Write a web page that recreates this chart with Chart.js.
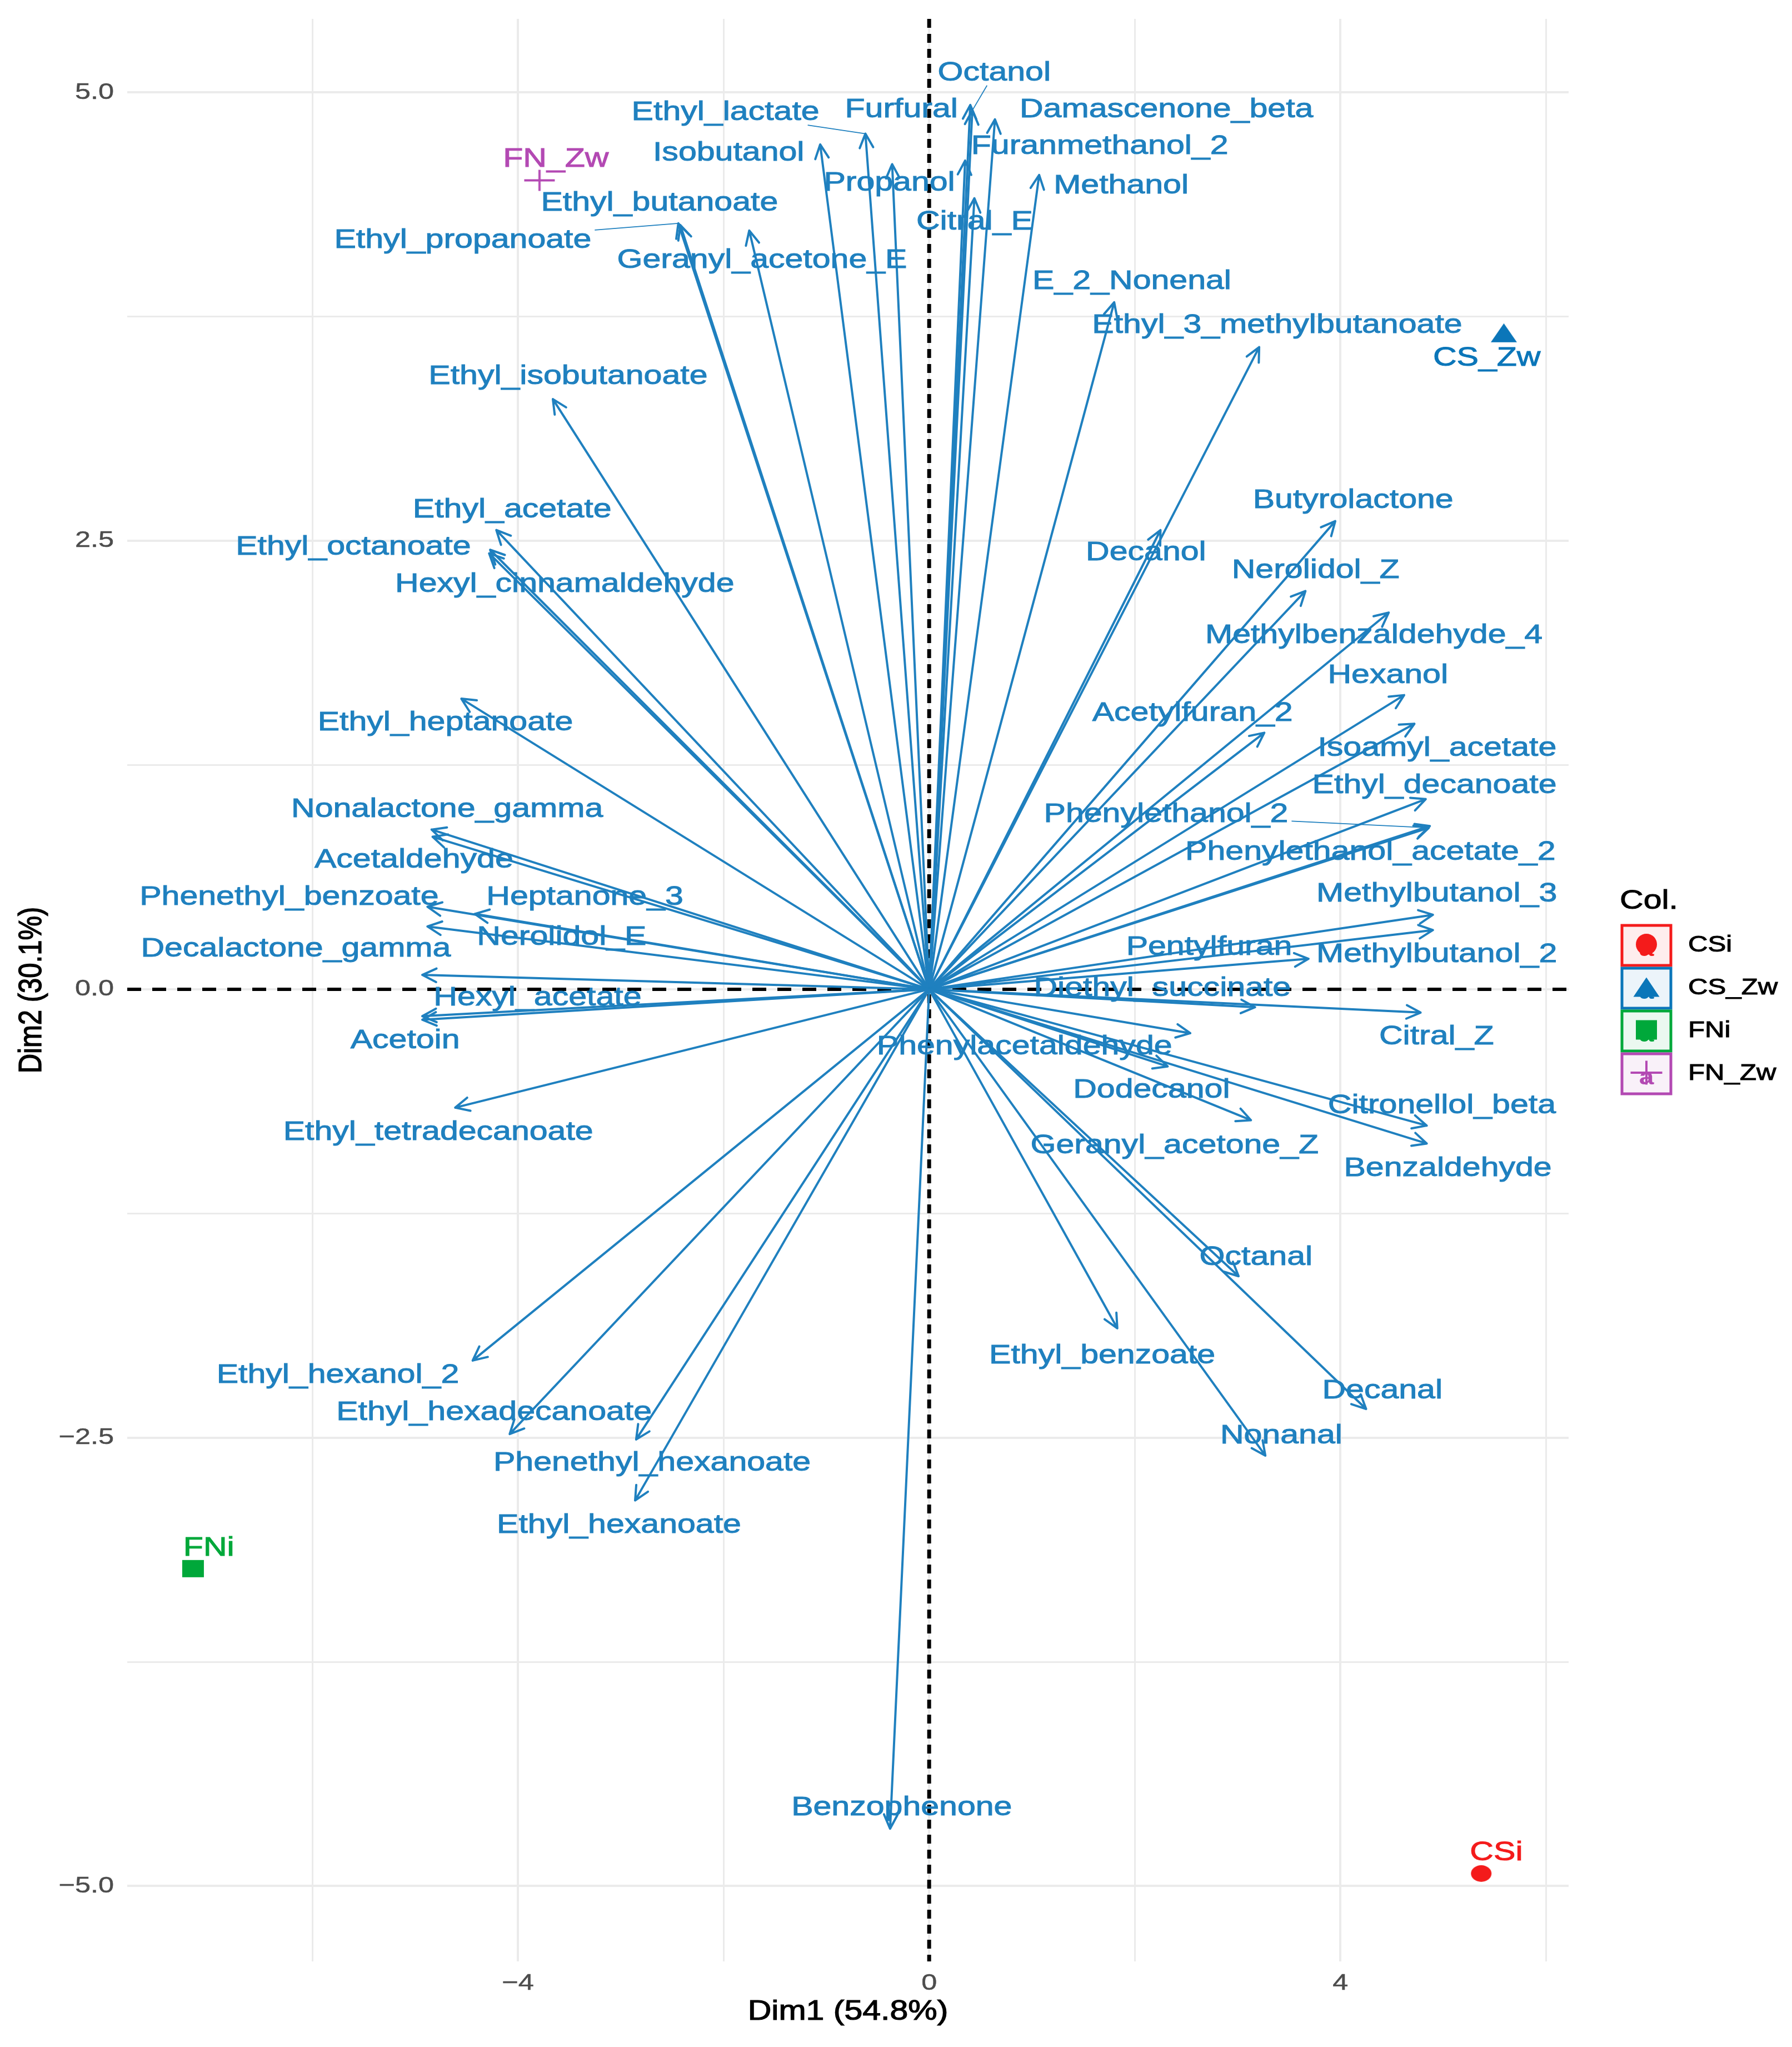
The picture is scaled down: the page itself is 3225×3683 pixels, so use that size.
<!DOCTYPE html>
<html>
<head>
<meta charset="utf-8">
<title>PCA biplot</title>
<script src="https://cdn.jsdelivr.net/npm/chart.js@4.4.1/dist/chart.umd.min.js"></script>
<style>
  html, body { margin: 0; padding: 0; background: #fff; }
  canvas { display: block; }
</style>
</head>
<body>
<canvas id="biplot" width="3225" height="3683"></canvas>
<script>
// =================== DATA ===================
// variable arrows (tip coordinates, Dim1 / Dim2)
const varNames = [
  "Ethyl_lactate", "Furfural", "Octanol", "Isobutanol", "Propanol",
  "Ethyl_butanoate", "Ethyl_propanoate", "Geranyl_acetone_E", "Ethyl_isobutanoate", "Ethyl_acetate",
  "Ethyl_octanoate", "Hexyl_cinnamaldehyde", "Damascenone_beta", "Furanmethanol_2", "Methanol",
  "Citral_E", "E_2_Nonenal", "Ethyl_3_methylbutanoate", "Decanol", "Butyrolactone",
  "Nerolidol_Z", "Methylbenzaldehyde_4", "Ethyl_heptanoate", "Nonalactone_gamma", "Acetaldehyde",
  "Heptanone_3", "Phenethyl_benzoate", "Nerolidol_E", "Decalactone_gamma", "Hexyl_acetate",
  "Acetoin", "Ethyl_tetradecanoate", "Hexanol", "Acetylfuran_2", "Isoamyl_acetate",
  "Ethyl_decanoate", "Phenylethanol_2", "Phenylethanol_acetate_2", "Methylbutanol_3", "Methylbutanol_2",
  "Pentylfuran", "Diethyl_succinate", "Citral_Z", "Phenylacetaldehyde", "Dodecanol",
  "Geranyl_acetone_Z", "Citronellol_beta", "Benzaldehyde", "Octanal", "Ethyl_benzoate",
  "Decanal", "Nonanal", "Ethyl_hexanol_2", "Ethyl_hexadecanoate", "Phenethyl_hexanoate",
  "Ethyl_hexanoate", "Benzophenone"
];
const varX = [
  -0.62, 0.40, 0.42, -1.06, -0.36,
  -2.42, -2.44, -1.75, -3.66, -4.21,
  -4.28, -4.27, 0.64, 0.35, 1.07,
  0.44, 1.80, 3.21, 2.25, 3.95,
  3.66, 4.47, -4.55, -4.84, -4.83,
  -4.42, -4.88, -4.88, -4.93, -4.93,
  -4.93, -4.61, 4.62, 3.26, 4.72,
  4.83, 4.86, 4.87, 4.90, 4.90,
  3.69, 3.17, 4.78, 2.54, 2.32,
  3.13, 4.84, 4.84, 3.01, 1.83,
  4.25, 3.27, -4.44, -4.08, -2.85,
  -2.86, -0.38
];
const varY = [
  4.77, 4.93, 4.90, 4.71, 4.60,
  4.26, 4.27, 4.23, 3.29, 2.56,
  2.43, 2.45, 4.85, 4.62, 4.54,
  4.41, 3.83, 3.58, 2.56, 2.61,
  2.22, 2.10, 1.62, 0.89, 0.85,
  0.42, 0.46, 0.35, 0.08, -0.15,
  -0.17, -0.66, 1.64, 1.43, 1.48,
  1.06, 0.90, 0.91, 0.415, 0.33,
  0.17, -0.10, -0.13, -0.245, -0.43,
  -0.73, -0.76, -0.86, -1.60, -1.89,
  -2.34, -2.60, -2.07, -2.48, -2.51,
  -2.85, -4.68
];
// repelled label centres, same order as varNames
const labelX = [
  -1.981, -0.270, 0.633, -1.951, -0.387,
  -2.623, -4.536, -1.625, -3.512, -4.056,
  -5.601, -3.545, 2.308, 1.659, 1.867,
  0.442, 1.972, 3.385, 2.109, 4.124,
  3.759, 4.326, -4.706, -4.689, -5.012,
  -3.349, -6.225, -3.574, -6.160, -3.809,
  -5.097, -4.775, 4.462, 2.562, 4.941,
  4.915, 2.304, 4.292, 4.937, 4.937,
  2.723, 2.268, 4.935, 0.927, 2.163,
  2.387, 4.987, 5.045, 3.179, 1.683,
  4.408, 3.425, -5.752, -4.232, -2.695,
  -3.017, -0.267
];
const labelY = [
  4.886, 4.903, 5.107, 4.661, 4.494,
  4.382, 4.175, 4.064, 3.416, 2.670,
  2.463, 2.255, 4.903, 4.697, 4.479,
  4.277, 3.945, 3.699, 2.432, 2.724,
  2.333, 1.970, 1.484, 1.001, 0.719,
  0.513, 0.513, 0.288, 0.223, -0.049,
  -0.287, -0.799, 1.748, 1.537, 1.341,
  1.135, 0.972, 0.763, 0.530, 0.193,
  0.232, 0.002, -0.267, -0.322, -0.563,
  -0.872, -0.650, -1.002, -1.495, -2.045,
  -2.241, -2.492, -2.152, -2.362, -2.643,
  -2.989, -4.565
];
// labels that ggrepel joined to their arrow with a segment
const leaderNames = ["Ethyl_lactate", "Ethyl_propanoate", "Octanol", "Phenylethanol_2"];

// individuals
const groupNames = ["CSi", "CS_Zw", "FNi", "FN_Zw"];
const indX = [5.37, 5.59, -7.16, -3.79];
const indY = [-4.93, 3.66, -3.23, 4.51];
const indLabelX = [5.517, 5.424, -7.007, -3.631];
const indLabelY = [-4.815, 3.518, -3.117, 4.626];

// axes
const xGrid = [-6, -4, -2, 0, 2, 4, 6];
const yGrid = [-5, -3.75, -2.5, -1.25, 0, 1.25, 2.5, 3.75, 5];
const xTicks = [-4, 0, 4];
const xTickLabels = ["\u22124", "0", "4"];
const yTicks = [-5, -2.5, 0, 2.5, 5];
const yTickLabels = ["\u22125.0", "\u22122.5", "0.0", "2.5", "5.0"];
const xTitle = "Dim1 (54.8%)";
const yTitle = "Dim2 (30.1%)";
const legendTitle = "Col.";

// =================== STYLE ===================
const FONT = "'Liberation Sans', Arial, Helvetica, sans-serif";
const STRETCH = 1.23;            // the source picture is widened horizontally
const VAR_COLOR = "#1f80bf";
const GROUP_COLORS = ["#f41b1b", "#0b76b9", "#00a83a", "#b349b3"];
const GROUP_SHAPES = ["circle", "triangle", "rect", "cross"];
const MAJOR_X = [-4, 0, 4];
const MAJOR_Y = [-5, -2.5, 0, 2.5, 5];

function hexToRgba(hex, a) {
  const n = parseInt(hex.slice(1), 16);
  return `rgba(${(n >> 16) & 255},${(n >> 8) & 255},${n & 255},${a})`;
}

// text widened like the source; a faint outline gives the slightly heavier look
function drawText(ctx, text, x, y, font, color, align = "center", baseline = "middle", sx = STRETCH, weight = 1) {
  ctx.save();
  ctx.font = font;
  ctx.fillStyle = color;
  ctx.strokeStyle = color;
  ctx.lineWidth = weight;
  ctx.textAlign = align;
  ctx.textBaseline = baseline;
  ctx.translate(x, y);
  ctx.scale(sx, 1);
  ctx.fillText(text, 0, 0);
  if (weight > 0) ctx.strokeText(text, 0, 0);
  ctx.restore();
}

function drawShape(g, shape, cx, cy, w, h, color) {
  g.save();
  g.fillStyle = color;
  g.strokeStyle = color;
  g.beginPath();
  if (shape === "circle") {
    g.ellipse(cx, cy, w / 2, h / 2, 0, 0, Math.PI * 2);
    g.fill();
  } else if (shape === "triangle") {
    g.moveTo(cx, cy - h / 2);
    g.lineTo(cx + w / 2, cy + h / 2);
    g.lineTo(cx - w / 2, cy + h / 2);
    g.closePath();
    g.fill();
  } else if (shape === "rect") {
    g.rect(cx - w / 2, cy - h / 2, w, h);
    g.fill();
  } else {
    g.lineWidth = 4;
    g.moveTo(cx - w / 2, cy);
    g.lineTo(cx + w / 2, cy);
    g.moveTo(cx, cy - h / 2);
    g.lineTo(cx, cy + h / 2);
    g.stroke();
  }
  g.restore();
}

const MARKER_SIZE = { circle: [37, 30], triangle: [47, 34], rect: [39, 31], cross: [55, 38] };

function makeMarker(shape, color) {
  const [w, h] = MARKER_SIZE[shape];
  const c = document.createElement("canvas");
  c.width = w + 4;
  c.height = h + 4;
  drawShape(c.getContext("2d"), shape, c.width / 2, c.height / 2, w, h, color);
  return c;
}

// =================== ARROWS, LABELS, LEGEND ===================
function drawArrow(ctx, x0, y0, x1, y1) {
  const ang = Math.atan2(y1 - y0, x1 - x0);
  const len = 28, spread = Math.PI / 7;
  ctx.beginPath();
  ctx.moveTo(x0, y0);
  ctx.lineTo(x1, y1);
  ctx.moveTo(x1 - len * Math.cos(ang - spread), y1 - len * Math.sin(ang - spread));
  ctx.lineTo(x1, y1);
  ctx.lineTo(x1 - len * Math.cos(ang + spread), y1 - len * Math.sin(ang + spread));
  ctx.stroke();
}

const biplotDecor = {
  id: "biplotDecor",
  beforeDatasetsDraw(chart) {
    const { ctx, chartArea: a, scales: { x, y } } = chart;
    const ox = x.getPixelForValue(0), oy = y.getPixelForValue(0);

    // dashed zero lines
    ctx.save();
    ctx.strokeStyle = "#000";
    ctx.lineWidth = 6;
    ctx.setLineDash([25, 20]);
    ctx.beginPath();
    ctx.moveTo(a.left, oy);
    ctx.lineTo(a.right, oy);
    ctx.stroke();
    ctx.lineWidth = 7;
    ctx.setLineDash([16, 11]);
    ctx.beginPath();
    ctx.moveTo(ox, a.top);
    ctx.lineTo(ox, a.bottom);
    ctx.stroke();
    ctx.restore();

    // variable arrows
    ctx.save();
    ctx.strokeStyle = VAR_COLOR;
    ctx.lineWidth = 4;
    ctx.lineCap = "round";
    ctx.lineJoin = "round";
    varNames.forEach((name, i) => {
      drawArrow(ctx, ox, oy, x.getPixelForValue(varX[i]), y.getPixelForValue(varY[i]));
    });
    ctx.restore();

    // leader segments from label box edge to arrow tip
    const labelFont = `48px ${FONT}`;
    ctx.save();
    ctx.font = labelFont;
    ctx.strokeStyle = VAR_COLOR;
    ctx.lineWidth = 1.8;
    leaderNames.forEach(name => {
      const i = varNames.indexOf(name);
      const lx = x.getPixelForValue(labelX[i]), ly = y.getPixelForValue(labelY[i]);
      const tx = x.getPixelForValue(varX[i]), ty = y.getPixelForValue(varY[i]);
      const hw = ctx.measureText(name).width * STRETCH / 2 + 6, hh = 22;
      const dx = tx - lx, dy = ty - ly;
      const t = Math.min(hw / Math.abs(dx || 1e-6), hh / Math.abs(dy || 1e-6));
      ctx.beginPath();
      ctx.moveTo(lx + dx * t, ly + dy * t);
      ctx.lineTo(tx, ty);
      ctx.stroke();
    });
    ctx.restore();

    // variable labels
    varNames.forEach((name, i) => {
      drawText(ctx, name, x.getPixelForValue(labelX[i]), y.getPixelForValue(labelY[i]), labelFont, VAR_COLOR);
    });
  },

  afterDraw(chart) {
    const { ctx, chartArea: a, scales: { x, y } } = chart;

    // individual labels
    groupNames.forEach((name, i) => {
      drawText(ctx, name, x.getPixelForValue(indLabelX[i]), y.getPixelForValue(indLabelY[i]),
        `48px ${FONT}`, GROUP_COLORS[i]);
    });

    // tick labels
    const tickFont = `41px ${FONT}`;
    xTicks.forEach((v, i) => {
      drawText(ctx, xTickLabels[i], x.getPixelForValue(v), a.bottom + 40, tickFont, "#4d4d4d", "center", "middle", STRETCH, 0.5);
    });
    yTicks.forEach((v, i) => {
      drawText(ctx, yTickLabels[i], a.left - 24, y.getPixelForValue(v), tickFont, "#4d4d4d", "right", "middle", STRETCH, 0.5);
    });

    // axis titles
    drawText(ctx, xTitle, (a.left + a.right) / 2, a.bottom + 91, `50px ${FONT}`, "#000", "center", "middle", 1.18, 1.2);
    ctx.save();
    ctx.translate(58, (a.top + a.bottom) / 2);
    ctx.scale(1.18, 1);
    ctx.rotate(-Math.PI / 2);
    ctx.font = `49px ${FONT}`;
    ctx.fillStyle = "#000";
    ctx.strokeStyle = "#000";
    ctx.lineWidth = 1.2;
    ctx.textAlign = "center";
    ctx.textBaseline = "middle";
    ctx.fillText(yTitle, 0, 0);
    ctx.strokeText(yTitle, 0, 0);
    ctx.restore();

    // legend
    const boxX = 2919, boxW = 88, boxH = 72, rowTop = 1665, rowStep = 77;
    drawText(ctx, legendTitle, 2915, 1635, `48px ${FONT}`, "#000", "left", "alphabetic");
    groupNames.forEach((name, i) => {
      const top = rowTop + i * rowStep, cy = top + boxH / 2, cx = boxX + boxW / 2;
      const col = GROUP_COLORS[i];
      ctx.save();
      ctx.fillStyle = hexToRgba(col, 0.08);
      ctx.fillRect(boxX, top, boxW, boxH);
      ctx.strokeStyle = col;
      ctx.lineWidth = 5;
      ctx.strokeRect(boxX, top, boxW, boxH);
      ctx.restore();
      drawText(ctx, "a", cx, cy + 8, `bold 40px ${FONT}`, col, "center", "middle", 1.2, 0);
      const sz = { circle: [38, 38], triangle: [47, 35], rect: [38, 35], cross: [57, 43] }[GROUP_SHAPES[i]];
      drawShape(ctx, GROUP_SHAPES[i], cx, cy - 2, sz[0], sz[1], col);
      drawText(ctx, name, 3038, cy, `40px ${FONT}`, "#000", "left");
    });
  }
};

// =================== CHART ===================
const datasets = groupNames.map((name, i) => ({
  label: name,
  data: [{ x: indX[i], y: indY[i] }],
  pointStyle: makeMarker(GROUP_SHAPES[i], GROUP_COLORS[i]),
  pointRadius: 10,
  pointHoverRadius: 10
}));

const gridLine = (major) => ({
  color: "#ebebeb",
  lineWidth: c => (major.includes(c.tick.value) ? 4 : 3),
  drawTicks: false
});

new Chart(document.getElementById("biplot"), {
  type: "scatter",
  data: { datasets },
  options: {
    responsive: false,
    devicePixelRatio: 1,
    animation: false,
    events: [],
    layout: { padding: { left: 0, top: 34, right: 402, bottom: 0 } },
    scales: {
      x: {
        type: "linear",
        min: -7.80,
        max: 6.22,
        afterBuildTicks: s => { s.ticks = xGrid.map(v => ({ value: v })); },
        afterFit: s => { s.height = 154; },
        ticks: { display: false },
        grid: gridLine(MAJOR_X),
        border: { display: false }
      },
      y: {
        type: "linear",
        min: -5.42,
        max: 5.41,
        afterBuildTicks: s => { s.ticks = yGrid.map(v => ({ value: v })); },
        afterFit: s => { s.width = 229; },
        ticks: { display: false },
        grid: gridLine(MAJOR_Y),
        border: { display: false }
      }
    },
    plugins: {
      legend: { display: false },
      tooltip: { enabled: false }
    }
  },
  plugins: [biplotDecor]
});
</script>
</body>
</html>
